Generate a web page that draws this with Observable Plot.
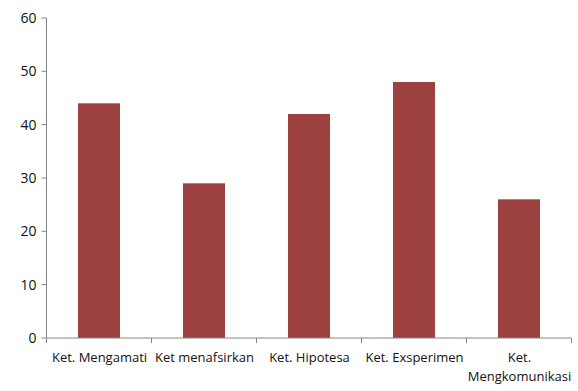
<!DOCTYPE html>
<html>
<head>
<meta charset="utf-8">
<script src="https://cdn.jsdelivr.net/npm/d3@7"></script>
<script src="https://cdn.jsdelivr.net/npm/@observablehq/plot@0.6"></script>
<style>
  html, body { margin: 0; padding: 0; background: #fff; }
  #chart svg { display: block; }
</style>
</head>
<body>
<div id="chart"></div>
<script>
const categories = ["Ket. Mengamati", "Ket menafsirkan", "Ket. Hipotesa", "Ket. Exsperimen", "Ket.\nMengkomunikasi"];
const values = [44, 29, 42, 48, 26];
const yTicks = [0, 10, 20, 30, 40, 50, 60];

const data = categories.map((c, i) => ({category: c, value: values[i]}));
const axisColor = "#868686";

function axisLines(index, scales, values, dims) {
  const x = scales.x, y = scales.y;
  const step = x.step();
  const pad = step * 0.3;
  const g = d3.create("svg:g");
  const edges = categories.map(c => x(c) - pad);
  edges.push(x(categories[categories.length - 1]) + x.bandwidth() + pad);
  const y0 = y(0);
  for (const e of edges) {
    g.append("line").attr("x1", e).attr("x2", e).attr("y1", y0).attr("y2", y0 + 5)
      .attr("stroke", axisColor).attr("stroke-width", 1);
  }
  for (const t of yTicks) {
    g.append("line").attr("x1", edges[0] - 5).attr("x2", edges[0])
      .attr("y1", y(t)).attr("y2", y(t)).attr("stroke", axisColor);
  }
  g.append("line").attr("x1", edges[0]).attr("x2", edges[edges.length - 1])
    .attr("y1", y0).attr("y2", y0).attr("stroke", axisColor);
  g.append("line").attr("x1", edges[0]).attr("x2", edges[0])
    .attr("y1", y(60)).attr("y2", y0).attr("stroke", axisColor);
  return g.node();
}

const chart = Plot.plot({
  width: 578,
  height: 391,
  marginLeft: 46,
  marginRight: 5,
  marginTop: 18,
  marginBottom: 53,
  style: {fontFamily: "Open Sans", fontSize: "13px", color: "#000", background: "#fff"},
  x: {domain: categories, paddingInner: 0.6, paddingOuter: 0.3, label: null},
  y: {domain: [0, 60], label: null},
  marks: [
    Plot.barY(data, {x: "category", y: "value", fill: "#9C4140"}),
    Plot.axisY({ticks: yTicks, tickSize: 0, tickPadding: 10, fontSize: 14, fill: "#111", label: null}),
    Plot.axisX({tickSize: 0, tickPadding: 11, label: null, fontSize: 13, fill: "#111", lineHeight: 1.4}),
    axisLines
  ]
});
document.getElementById("chart").appendChild(chart);
</script>
</body>
</html>
